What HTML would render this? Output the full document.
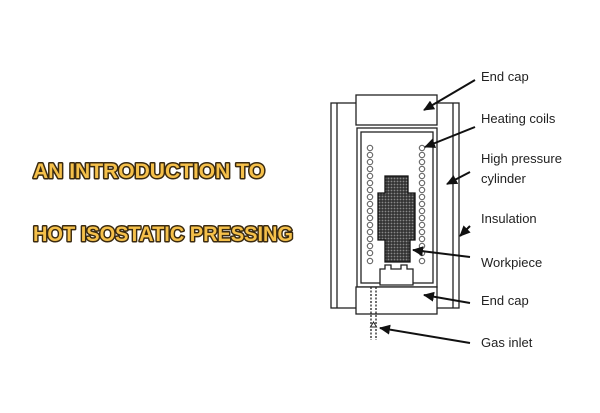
<!DOCTYPE html>
<html><head><style>html,body{margin:0;padding:0;background:#fff;}svg{display:block}</style></head>
<body>
<svg width="600" height="413" viewBox="0 0 600 413" xmlns="http://www.w3.org/2000/svg">
<defs><marker id="a" markerUnits="userSpaceOnUse" markerWidth="12" markerHeight="10" refX="10" refY="5" orient="auto"><path d="M0,0 L11,5 L0,10 z" fill="#111"/></marker>
<pattern id="p" width="3" height="3" patternUnits="userSpaceOnUse"><rect width="3" height="3" fill="#333"/><circle cx="1.5" cy="1.5" r="0.9" fill="#888"/></pattern></defs>
<g font-family="Liberation Sans, sans-serif" font-weight="bold" font-size="21" fill="#f5c04a" stroke="#3a2a10" stroke-width="3" paint-order="stroke" stroke-linejoin="round">
<text x="33" y="178" textLength="232" lengthAdjust="spacingAndGlyphs">AN INTRODUCTION TO</text>
<text x="33" y="241" textLength="260" lengthAdjust="spacingAndGlyphs">HOT ISOSTATIC PRESSING</text>
</g>
<g fill="none" stroke="#222" stroke-width="1.3">
<rect x="331" y="103" width="128" height="205" fill="#fff"/>
<line x1="337" y1="103" x2="337" y2="308"/><line x1="453" y1="103" x2="453" y2="308"/>
<rect x="356" y="95" width="81" height="30" fill="#fff"/>
<rect x="357" y="128" width="80" height="159" fill="#fff"/>
<rect x="361" y="132" width="72" height="151"/>
<rect x="356" y="287" width="81" height="27" fill="#fff"/>
<path d="M385,265 h6 v4 h10 v-4 h6 v4 h6 v16 h-33 v-16 h5 z" fill="#fff"/>
<line x1="371" y1="287" x2="371" y2="340" stroke-dasharray="2,1.5"/><line x1="376" y1="287" x2="376" y2="340" stroke-dasharray="2,1.5"/>
</g>
<path d="M385,176 h23 v17 h7 v47 h-5 v22 h-25 v-22 h-7 v-47 h7 z" fill="url(#p)" stroke="#111" stroke-width="1.3"/>
<g fill="none" stroke="#666" stroke-width="1.1">
<circle cx="370" cy="148" r="2.7"/><circle cx="370" cy="155" r="2.7"/><circle cx="370" cy="162" r="2.7"/><circle cx="370" cy="169" r="2.7"/><circle cx="370" cy="176" r="2.7"/><circle cx="370" cy="183" r="2.7"/><circle cx="370" cy="190" r="2.7"/><circle cx="370" cy="197" r="2.7"/><circle cx="370" cy="204" r="2.7"/><circle cx="370" cy="211" r="2.7"/><circle cx="370" cy="218" r="2.7"/><circle cx="370" cy="225" r="2.7"/><circle cx="370" cy="232" r="2.7"/><circle cx="370" cy="239" r="2.7"/><circle cx="370" cy="246" r="2.7"/><circle cx="370" cy="253" r="2.7"/><circle cx="370" cy="261" r="2.7"/>
<circle cx="422" cy="148" r="2.7"/><circle cx="422" cy="155" r="2.7"/><circle cx="422" cy="162" r="2.7"/><circle cx="422" cy="169" r="2.7"/><circle cx="422" cy="176" r="2.7"/><circle cx="422" cy="183" r="2.7"/><circle cx="422" cy="190" r="2.7"/><circle cx="422" cy="197" r="2.7"/><circle cx="422" cy="204" r="2.7"/><circle cx="422" cy="211" r="2.7"/><circle cx="422" cy="218" r="2.7"/><circle cx="422" cy="225" r="2.7"/><circle cx="422" cy="232" r="2.7"/><circle cx="422" cy="239" r="2.7"/><circle cx="422" cy="246" r="2.7"/><circle cx="422" cy="253" r="2.7"/><circle cx="422" cy="261" r="2.7"/>
</g>
<path d="M373.5,322 l-3,5 h6 z" fill="#fff" stroke="#222"/>
<g stroke="#111" stroke-width="2" marker-end="url(#a)">
<line x1="475" y1="80" x2="424" y2="110"/>
<line x1="475" y1="127" x2="425" y2="147"/>
<line x1="470" y1="172" x2="447" y2="184"/>
<line x1="470" y1="226" x2="460" y2="236"/>
<line x1="470" y1="257" x2="413" y2="250"/>
<line x1="470" y1="303" x2="424" y2="295"/>
<line x1="470" y1="343" x2="380" y2="328"/>
</g>
<g font-family="Liberation Sans, sans-serif" font-size="13" fill="#222">
<text x="481" y="81">End cap</text>
<text x="481" y="123">Heating coils</text>
<text x="481" y="163">High pressure</text>
<text x="481" y="183">cylinder</text>
<text x="481" y="223">Insulation</text>
<text x="481" y="267">Workpiece</text>
<text x="481" y="305">End cap</text>
<text x="481" y="347">Gas inlet</text>
</g>
</svg>
</body></html>
